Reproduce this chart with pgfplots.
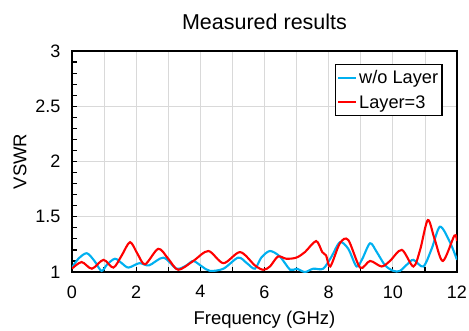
\documentclass[border=0pt]{standalone}
\usepackage{pgfplots}
\pgfplotsset{compat=1.18}
\usepackage{fontspec}
\setmainfont{Liberation Sans}
\definecolor{cblue}{RGB}{0,176,240}
\definecolor{cred}{RGB}{255,0,0}
\definecolor{cgrid}{RGB}{217,217,217}
\begin{document}
\begin{tikzpicture}
\begin{axis}[
  scale only axis,
  width=385pt, height=221pt,
  xmin=0, xmax=12, ymin=1, ymax=3,
  xtick={0,2,...,12}, minor x tick num=1,
  ytick={1,1.5,2,2.5,3}, minor y tick num=4,
  yticklabels={1,1.5,2,2.5,3},
  xmajorgrids, xminorgrids, ymajorgrids,
  grid style={cgrid, line width=0.8pt},
  minor grid style={cgrid, line width=0.8pt},
  axis line style={black, line width=1.6pt},
  tick style={black, line width=1.2pt},
  major tick length=5pt, minor tick length=5pt,
  tick align=inside,
  xtick pos=bottom, ytick pos=left,
  /pgf/number format/assume math mode=true,
  tick label style={font=\fontsize{18pt}{20pt}\selectfont},
  xticklabel style={yshift=-10pt},
  yticklabel style={xshift=-8pt},
  label style={font=\fontsize{18.5pt}{20pt}\selectfont},
  xlabel={Frequency (GHz)},
  ylabel={VSWR},
  xlabel style={yshift=-6pt},
  ylabel style={yshift=2pt},
  title={Measured results},
  title style={font=\fontsize{21.5pt}{24pt}\selectfont, yshift=12pt},
  legend style={at={(rel axis cs:0.963,0.941)}, anchor=north east,
    draw=black, line width=1.3pt, font=\fontsize{18.2pt}{20pt}\selectfont,
    inner xsep=2pt, inner ysep=4pt, row sep=6pt, cells={anchor=west}},
  legend image code/.code={\draw[#1, line width=2pt] (0pt,0pt) -- (18pt,0pt);},
  every axis plot/.append style={line width=2.1pt, smooth, tension=0.5},
]
\addplot[cblue] coordinates {
(0,1.04) (0.2,1.12) (0.46,1.17) (0.7,1.10) (0.92,1.01) (1.1,1.07) (1.34,1.12)
(1.55,1.08) (1.76,1.04) (2.1,1.08) (2.4,1.06) (2.85,1.13) (3.26,1.03) (3.57,1.06)
(3.78,1.10) (4.05,1.05) (4.30,1.01) (4.72,1.03) (5.18,1.13) (5.45,1.08) (5.70,1.03)
(5.9,1.13) (6.17,1.19) (6.48,1.14) (6.80,1.02) (7.0,1.03) (7.26,1.00) (7.52,1.03)
(7.83,1.03) (8.09,1.14) (8.35,1.27) (8.61,1.21) (8.87,1.05) (9.05,1.12) (9.29,1.26)
(9.5,1.18) (9.76,1.06) (10.02,1.01) (10.22,1.01) (10.45,1.07) (10.64,1.11) (10.95,1.05)
(11.21,1.21) (11.47,1.41) (11.78,1.27) (12.0,1.11)
};
\addlegendentry{w/o Layer}
\addplot[cred] coordinates {
(0,1.03) (0.30,1.09) (0.62,1.03) (0.98,1.11) (1.29,1.04) (1.55,1.15) (1.81,1.27)
(2.05,1.16) (2.28,1.07) (2.69,1.21) (3.0,1.12) (3.31,1.02) (3.78,1.10) (4.25,1.19)
(4.72,1.08) (5.24,1.18) (5.70,1.06) (5.96,1.02) (6.17,1.05) (6.42,1.14) (6.68,1.12)
(6.99,1.13) (7.26,1.18) (7.61,1.28) (7.80,1.18) (7.92,1.15) (8.05,1.05) (8.35,1.26)
(8.61,1.29) (8.98,1.04) (9.29,1.10) (9.65,1.05) (9.91,1.10) (10.28,1.20) (10.64,1.05)
(10.85,1.20) (11.09,1.47) (11.3,1.30) (11.56,1.10) (11.92,1.33) (12.0,1.28)
};
\addlegendentry{Layer=3}
\end{axis}
\pgfresetboundingbox
\path ([xshift=-72pt,yshift=-58pt]current axis.south west) rectangle ([xshift=12pt,yshift=51pt]current axis.north east);
\end{tikzpicture}
\end{document}
